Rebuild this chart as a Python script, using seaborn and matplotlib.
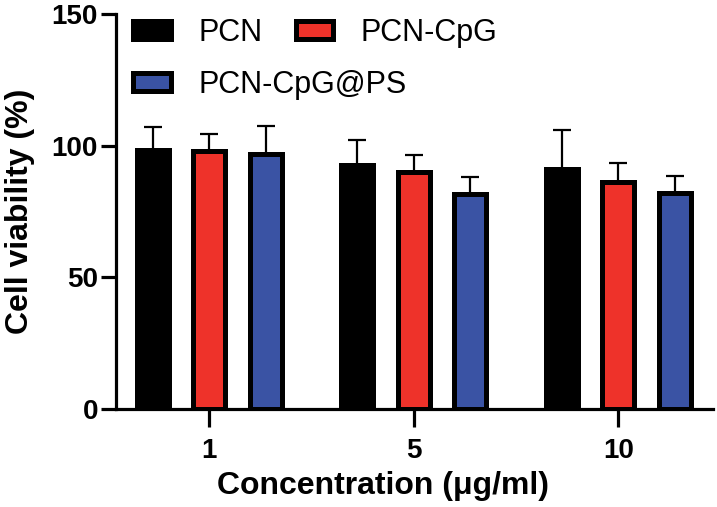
import matplotlib
matplotlib.use("Agg")
import matplotlib.pyplot as plt
from matplotlib.patches import Patch
import seaborn as sns
import pandas as pd
import numpy as np

# data
concentrations = ["1", "5", "10"]
groups = ["PCN", "PCN-CpG", "PCN-CpG@PS"]
pcn_mean = [98.6, 92.6, 91.2]
pcn_err = [8.7, 9.7, 14.7]
cpg_mean = [98.0, 90.2, 86.4]
cpg_err = [6.4, 6.5, 7.1]
ps_mean = [96.9, 81.7, 82.1]
ps_err = [10.6, 6.4, 6.6]

colors = ["#000000", "#EE322A", "#3A53A4"]

df = pd.DataFrame({
    "conc": concentrations * 3,
    "group": [g for g in groups for _ in concentrations],
    "val": pcn_mean + cpg_mean + ps_mean,
})
errs = [pcn_err, cpg_err, ps_err]

sns.set_style("ticks")
plt.rcParams["font.family"] = ["Liberation Sans", "DejaVu Sans"]
plt.rcParams.update({"text.color": "black", "axes.labelcolor": "black",
                     "xtick.color": "black", "ytick.color": "black",
                     "axes.edgecolor": "black"})

fig = plt.figure(figsize=(7.17, 5.07), dpi=100)
ax = fig.add_axes([0.162, 0.193, 0.833, 0.779])

sns.barplot(data=df, x="conc", y="val", hue="group", order=concentrations,
            hue_order=groups, palette=colors, width=0.829, gap=0.435,
            errorbar=None, edgecolor="black", linewidth=3.6, ax=ax,
            legend=False, saturation=1)

# upper-only error bars
for cont, e in zip(ax.containers, errs):
    xs = [p.get_x() + p.get_width() / 2 for p in cont.patches]
    ys = [p.get_height() for p in cont.patches]
    ax.errorbar(xs, ys, yerr=[np.zeros(len(e)), e], fmt="none",
                ecolor="black", elinewidth=1.6, capsize=6.5, capthick=1.6,
                zorder=1)
for p in ax.patches:
    p.set_zorder(2)

ax.set_ylim(0, 150)
ax.set_yticks([0, 50, 100, 150])
ax.set_xlim(-0.455, 2.465)
sns.despine(ax=ax)
for s in ["left", "bottom"]:
    ax.spines[s].set_linewidth(2.3)
ax.tick_params(axis="both", width=2.3, labelsize=20)
ax.tick_params(axis="x", length=13, pad=8)
ax.tick_params(axis="y", length=11, pad=2)
for lab in ax.get_xticklabels() + ax.get_yticklabels():
    lab.set_fontweight("bold")
ax.set_xlabel("Concentration (μg/ml)", fontsize=23, fontweight="bold", labelpad=5)
ax.xaxis.label.set_x(0.447)
ax.set_ylabel("Cell viability (%)", fontsize=23, fontweight="bold", labelpad=12)

# legend: two entries on the first row, one on the second
handles = [Patch(facecolor=c, edgecolor="black", linewidth=3.6) for c in colors]
kw = dict(frameon=False, fontsize=22, handlelength=1.22, handleheight=0.53,
          handletextpad=0.9, borderpad=0, borderaxespad=0, loc="upper left")
leg1 = ax.legend(handles[:2], groups[:2], ncol=2, columnspacing=1.1,
                 bbox_to_anchor=(0.029, 0.99), **kw)
ax.add_artist(leg1)
ax.legend(handles[2:], groups[2:], bbox_to_anchor=(0.029, 0.858), **kw)

fig.savefig("out.png", dpi=100)
